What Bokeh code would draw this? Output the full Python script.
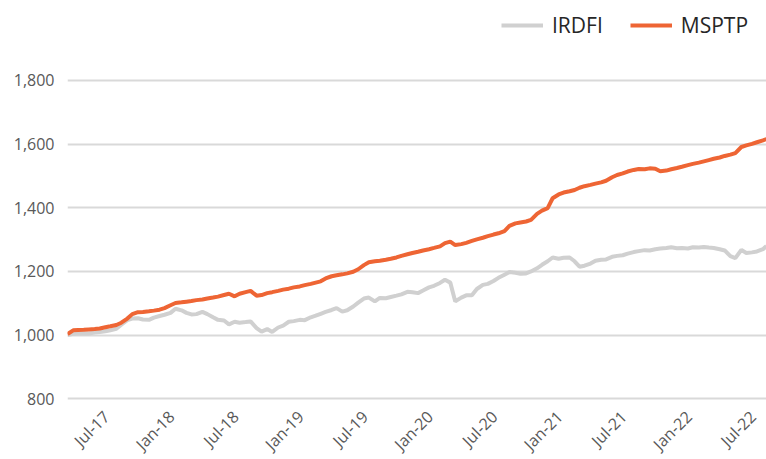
import pandas as pd
from bokeh.plotting import figure
from bokeh.models import (ColumnDataSource, Range1d, FixedTicker, NumeralTickFormatter,
                          Legend, LegendItem)
from bokeh.core.properties import value
from bokeh.embed import file_html
from bokeh.resources import INLINE
from math import pi

# ---------------- data (semi-monthly readings) ----------------
months = ["2017-04", "2017-05", "2017-06", "2017-07", "2017-08", "2017-09", "2017-10", "2017-11",
          "2017-12", "2018-01", "2018-02", "2018-03", "2018-04", "2018-05", "2018-06", "2018-07",
          "2018-08", "2018-09", "2018-10", "2018-11", "2018-12", "2019-01", "2019-02", "2019-03",
          "2019-04", "2019-05", "2019-06", "2019-07", "2019-08", "2019-09", "2019-10", "2019-11",
          "2019-12", "2020-01", "2020-02", "2020-03", "2020-04", "2020-05", "2020-06", "2020-07",
          "2020-08", "2020-09", "2020-10", "2020-11", "2020-12", "2021-01", "2021-02", "2021-03",
          "2021-04", "2021-05", "2021-06", "2021-07", "2021-08", "2021-09", "2021-10", "2021-11",
          "2021-12", "2022-01", "2022-02", "2022-03", "2022-04", "2022-05", "2022-06", "2022-07",
          "2022-08"]
dates = ["2017-03-16"]
for m in months:
    dates.append(m + "-01")
    dates.append(m + "-15" if m != "2022-08" else m + "-11")

mspt = [1003,
        1015, 1016, 1017, 1018, 1019, 1021, 1025, 1028, 1032, 1039, 1052, 1066, 1072, 1073, 1075, 1077,
        1080, 1085, 1094, 1101, 1103, 1105, 1107, 1110, 1112, 1115, 1118, 1121, 1126, 1130, 1122, 1130,
        1135, 1139, 1124, 1126, 1132, 1135, 1139, 1143, 1146, 1150, 1153, 1157, 1161, 1165, 1169, 1178,
        1185, 1188, 1191, 1194, 1199, 1207, 1220, 1229, 1232, 1234, 1237, 1240, 1244, 1249, 1254, 1258,
        1262, 1266, 1270, 1274, 1279, 1289, 1294, 1283, 1286, 1290, 1296, 1301, 1306, 1311, 1316, 1320,
        1327, 1343, 1351, 1354, 1357, 1362, 1381, 1391, 1399, 1430, 1442, 1448, 1452, 1456, 1463, 1468,
        1472, 1476, 1480, 1485, 1496, 1503, 1508, 1514, 1519, 1522, 1521, 1524, 1523, 1515, 1517, 1521,
        1525, 1529, 1534, 1538, 1542, 1546, 1550, 1554, 1558, 1563, 1567, 1572, 1591, 1596, 1601, 1606,
        1612, 1616]

irdfi = [1000,
         1004, 1005, 1006, 1005, 1008, 1010, 1012, 1015, 1020, 1033, 1047, 1052, 1053, 1049, 1048, 1055,
         1060, 1064, 1070, 1083, 1078, 1070, 1065, 1066, 1073, 1066, 1056, 1048, 1046, 1034, 1042, 1039,
         1041, 1043, 1022, 1011, 1019, 1010, 1024, 1030, 1042, 1044, 1048, 1047, 1056, 1061, 1067, 1073,
         1079, 1085, 1074, 1078, 1090, 1102, 1115, 1118, 1106, 1117, 1116, 1120, 1124, 1128, 1136, 1135,
         1132, 1140, 1150, 1155, 1164, 1174, 1165, 1106, 1118, 1125, 1125, 1145, 1158, 1161, 1170, 1180,
         1190, 1198, 1196, 1193, 1194, 1200, 1210, 1221, 1232, 1244, 1240, 1243, 1244, 1232, 1215, 1218,
         1225, 1234, 1237, 1238, 1246, 1249, 1251, 1256, 1261, 1264, 1267, 1266, 1270, 1272, 1274, 1276,
         1273, 1274, 1272, 1276, 1275, 1277, 1275, 1274, 1270, 1266, 1248, 1242, 1268, 1258, 1260, 1263,
         1270, 1280]

tick_dates = ["2017-07-01", "2018-01-01", "2018-07-01", "2019-01-01", "2019-07-01", "2020-01-01",
              "2020-07-01", "2021-01-01", "2021-07-01", "2022-01-01", "2022-07-01"]
tick_labels = ["Jul-17", "Jan-18", "Jul-18", "Jan-19", "Jul-19", "Jan-20",
               "Jul-20", "Jan-21", "Jul-21", "Jan-22", "Jul-22"]
y_ticks = [800, 1000, 1200, 1400, 1600, 1800]
series_names = ["IRDFI", "MSPTP"]

# ---------------- build ----------------
dt = pd.to_datetime(dates)
x_ms = [d.value / 1e6 for d in dt]
src = ColumnDataSource(dict(x=x_ms, irdfi=irdfi, mspt=mspt))

FONT = "Open Sans"
Y_MIN, Y_MAX = y_ticks[0], y_ticks[-1]
# frame covers the whole figure height: room for the date labels below the
# 800 line and for the legend above the 1,800 line
p = figure(width=766, height=459, output_backend="svg", toolbar_location=None,
           x_axis_location=None,
           x_range=Range1d(x_ms[0], x_ms[-1]),
           y_range=Range1d(Y_MIN - 190.7, Y_MAX + 251.3),
           min_border_left=67, min_border_right=0, min_border_top=0, min_border_bottom=0)
p.outline_line_color = None
p.background_fill_color = "white"
p.border_fill_color = "white"

r1 = p.line("x", "irdfi", source=src, line_color="#D0D0D0", line_width=4)
r2 = p.line("x", "mspt", source=src, line_color="#EE6534", line_width=4)

# date labels (rotated, placed at their tick dates below the bottom grid line)
tick_ms = [pd.Timestamp(d).value / 1e6 for d in tick_dates]
lab_src = ColumnDataSource(dict(x=tick_ms, y=[Y_MIN] * len(tick_ms), t=tick_labels))
p.text("x", "y", text="t", source=lab_src, angle=pi / 4, text_align="right",
       text_baseline="middle", y_offset=15, x_offset=1,
       text_font=value(FONT), text_font_size="16px", text_color="#595959")

ya = p.yaxis[0]
ya.ticker = FixedTicker(ticks=y_ticks)
ya.formatter = NumeralTickFormatter(format="0,0")
ya.axis_line_color = None
ya.major_tick_line_color = None
ya.minor_tick_line_color = None
ya.major_tick_out = 0
ya.major_tick_in = 0
ya.major_label_text_font = FONT
ya.major_label_text_font_size = "16px"
ya.major_label_text_color = "#595959"
ya.major_label_standoff = 13

p.xgrid.grid_line_color = None
p.ygrid.grid_line_color = "#D9D9D9"
p.ygrid.grid_line_width = 2
p.ygrid.ticker = FixedTicker(ticks=y_ticks)

legend = Legend(items=[LegendItem(label=series_names[0], renderers=[r1]),
                       LegendItem(label=series_names[1], renderers=[r2])],
                orientation="horizontal", location=(434, 420))
legend.label_text_font = FONT
legend.label_text_font_size = "21px"
legend.label_text_color = "#262626"
legend.glyph_width = 42
legend.label_standoff = 9
legend.spacing = 27
legend.padding = 0
legend.margin = 0
legend.border_line_color = None
legend.background_fill_alpha = 0
p.add_layout(legend, "center")

open("out.html", "w").write(file_html(p, INLINE))
